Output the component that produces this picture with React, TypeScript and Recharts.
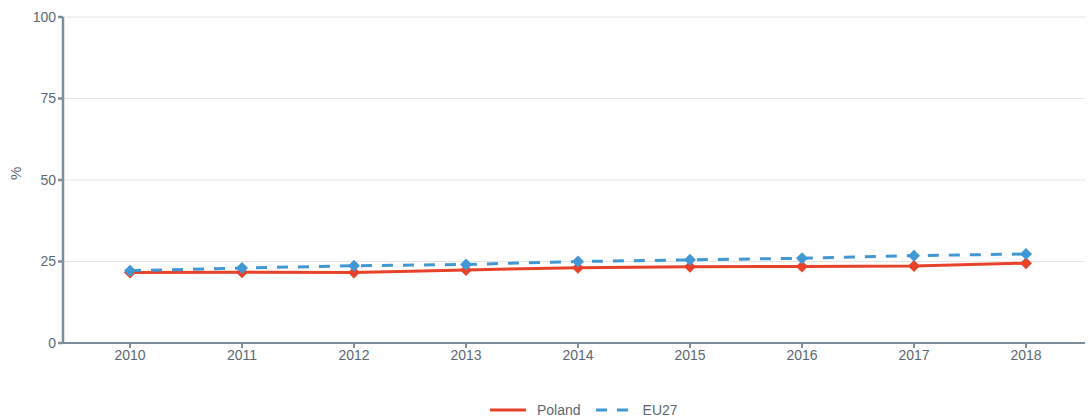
import { LineChart, Line, XAxis, YAxis, CartesianGrid, Legend } from "recharts";

const years = ["2010", "2011", "2012", "2013", "2014", "2015", "2016", "2017", "2018"];
const poland = [21.6, 21.7, 21.6, 22.4, 23.1, 23.4, 23.5, 23.6, 24.5];
const eu27 = [22.2, 23.0, 23.7, 24.1, 25.0, 25.5, 26.0, 26.8, 27.3];
const yTicks = [0, 25, 50, 75, 100];

const RED = "#e8432a";
const BLUE = "#4298d4";
const AXIS = "#7d8e9b";
const TEXT = "#5b6873";

const data = years.map((y, i) => ({ year: y, poland: poland[i], eu27: eu27[i] }));

function Diamond({ cx, cy, fill }: { cx?: number; cy?: number; fill: string }) {
  if (cx == null || cy == null) return null;
  const r = 6;
  return <polygon points={`${cx},${cy - r} ${cx + r},${cy} ${cx},${cy + r} ${cx - r},${cy}`} fill={fill} />;
}

function LegendBox() {
  return (
    <div style={{ display: "flex", alignItems: "center", marginLeft: 490, fontSize: 14, color: TEXT, fontFamily: "Liberation Sans, Arial, sans-serif" }}>
      <svg width={36} height={6}>
        <line x1={0} y1={3} x2={36} y2={3} stroke={RED} strokeWidth={3} />
      </svg>
      <span style={{ marginLeft: 11, marginRight: 15 }}>Poland</span>
      <svg width={36} height={6}>
        <line x1={0} y1={3} x2={36} y2={3} stroke={BLUE} strokeWidth={3} strokeDasharray="11 10" />
      </svg>
      <span style={{ marginLeft: 11 }}>EU27</span>
    </div>
  );
}

export default function App() {
  return (
    <div style={{ position: "absolute", left: 0, top: 0, background: "#fff", fontFamily: "Liberation Sans, Arial, sans-serif" }}>
      <LineChart width={1088} height={417} data={data} margin={{ top: 17, right: 3, left: 0, bottom: 28 }}>
        <CartesianGrid stroke="#e4e4e4" vertical={false} />
        <XAxis
          dataKey="year"
          padding={{ left: 67, right: 59 }}
          stroke={AXIS}
          strokeWidth={2}
          tick={{ fontSize: 14, fill: TEXT }}
          tickSize={5}
          height={30}
        />
        <YAxis
          domain={[0, 100]}
          ticks={yTicks}
          width={63}
          stroke={AXIS}
          strokeWidth={2.5}
          tick={{ fontSize: 14, fill: TEXT }}
          tickSize={5}
          label={{ value: "%", angle: -90, position: "insideLeft", offset: 16, fill: TEXT, fontSize: 15 }}
        />
        <Legend content={<LegendBox />} wrapperStyle={{ top: 402, left: 0, width: 1088 }} />
        <Line
          dataKey="poland"
          name="Poland"
          stroke={RED}
          strokeWidth={3}
          dot={<Diamond fill={RED} />}
          activeDot={false}
          isAnimationActive={false}
        />
        <Line
          dataKey="eu27"
          name="EU27"
          stroke={BLUE}
          strokeWidth={3}
          strokeDasharray="11 10"
          dot={<Diamond fill={BLUE} />}
          activeDot={false}
          isAnimationActive={false}
        />
      </LineChart>
    </div>
  );
}
